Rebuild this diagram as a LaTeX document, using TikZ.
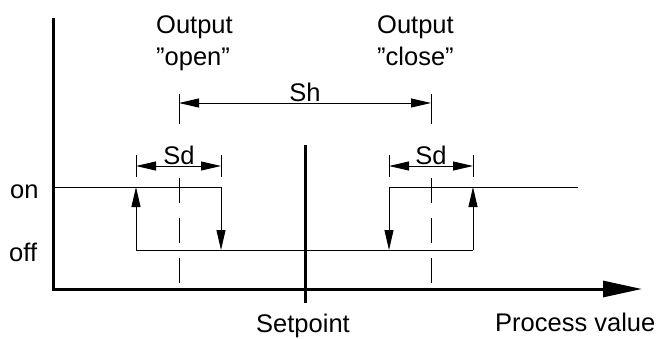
\documentclass[tikz,border=0pt]{standalone}
\usepackage{fontspec}
\setmainfont{Liberation Sans}
\usetikzlibrary{arrows.meta}

\begin{document}
\begin{tikzpicture}[x=1pt,y=-1pt,
  axisline/.style={line width=3pt},
  thinline/.style={line width=1pt},
  signal/.style={thinline,-{Triangle[length=20pt,width=9pt]}},
  dimline/.style={thinline,{Triangle[length=20pt,width=9pt]}-{Triangle[length=20pt,width=9pt]}},
  txt/.style={inner sep=0pt,font=\fontsize{25.5}{28}\selectfont}]
\useasboundingbox (0,0) rectangle (659,338);
% axes
\coordinate (ytop) at (53,18);
\coordinate (orig) at (53,289);
\coordinate (xend) at (642,289);
\draw[axisline,-{Triangle[length=39pt,width=16pt]}] (ytop) -- (orig) -- (xend);
\coordinate (sptop) at (305,145);
\coordinate (spbot) at (305,303);
\draw[axisline] (sptop) -- (spbot);
% switching curve
\coordinate (onL) at (53,187);
\coordinate (onR) at (578,187);
\coordinate (a1on) at (136,187);
\coordinate (a1off) at (136,250);
\coordinate (a2on) at (221,187);
\coordinate (a2off) at (221,250);
\coordinate (b1on) at (389,187);
\coordinate (b1off) at (389,250);
\coordinate (b2on) at (473,187);
\coordinate (b2off) at (473,250);
\draw[signal] (onL) -- (a2on) -- (a2off);
\draw[signal] (b2off) -- (a1off) -- (a1on);
\draw[signal] (onR) -- (b1on) -- (b1off);
\draw[signal] (b2off) -- (b2on);
% guide lines
\draw[thinline] (179,94) -- (179,124);
\draw[thinline] (431,94) -- (431,124);
\draw[thinline,dash pattern=on 25pt off 15pt] (179,178) -- (179,283);
\draw[thinline,dash pattern=on 25pt off 15pt] (431,178) -- (431,283);
\foreach \x in {136,221,389,473}
  \draw[thinline] (\x,155) -- (\x,177);
% dimensions
\coordinate (shL) at (179,103);
\coordinate (shR) at (431,103);
\draw[dimline] (shL) -- (shR);
\coordinate (sdaL) at (136,166);
\coordinate (sdaR) at (221,166);
\draw[dimline] (sdaL) -- (sdaR);
\coordinate (sdbL) at (389,166);
\coordinate (sdbR) at (473,166);
\draw[dimline] (sdbL) -- (sdbR);
% texts
\node[txt,anchor=base] (sh) at (305,101) {Sh};
\node[txt,anchor=base] (sda) at (179,164) {Sd};
\node[txt,anchor=base] (sdb) at (431,164) {Sd};
\node[txt,anchor=base west] (on) at (10,198) {on};
\node[txt,anchor=base west] (off) at (9,261) {off};
\node[txt,anchor=base west] (outa) at (156,33) {Output};
\node[txt,anchor=base west] (opena) at (156,65) {\symbol{34}open\symbol{34}};
\node[txt,anchor=base west] (outb) at (377,33) {Output};
\node[txt,anchor=base west] (closeb) at (377,65) {\symbol{34}close\symbol{34}};
\node[txt,anchor=base] (setp) at (303,332) {Setpoint};
\node[txt,anchor=base west] (pv) at (495,331) {Process value};
\end{tikzpicture}
\end{document}
